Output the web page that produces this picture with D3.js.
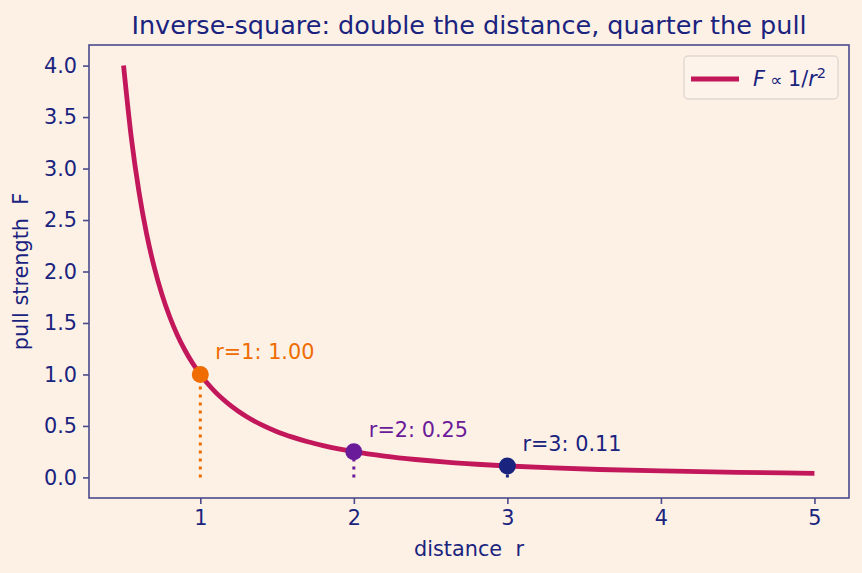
<!DOCTYPE html>
<html>
<head>
<meta charset="utf-8">
<script src="https://cdn.jsdelivr.net/npm/d3@7"></script>
<style>
  body { margin: 0; background: #fdf1e6; }
  svg text { font-family: "DejaVu Sans", sans-serif; white-space: pre; }
</style>
</head>
<body>
<div id="chart"></div>
<script>
// curve samples
var curveR = [0.5, 0.55, 0.6, 0.65, 0.7, 0.75, 0.8, 0.85, 0.9, 0.95, 1.0, 1.05, 1.1, 1.15, 1.2, 1.25, 1.3, 1.4, 1.5, 1.6, 1.7, 1.8, 1.9, 2.0, 2.2, 2.4, 2.6, 2.8, 3.0, 3.3, 3.6, 4.0, 4.5, 5.0];
var curveF = [4.000, 3.306, 2.778, 2.367, 2.041, 1.778, 1.563, 1.384, 1.235, 1.108, 1.000, 0.907, 0.826, 0.756, 0.694, 0.640, 0.592, 0.510, 0.444, 0.391, 0.346, 0.309, 0.277, 0.250, 0.207, 0.174, 0.148, 0.128, 0.111, 0.092, 0.077, 0.063, 0.049, 0.040];

// highlighted points
var markR = [1, 2, 3];
var markF = [1.00, 0.25, 0.11];
var markLabels = ["r=1: 1.00", "r=2: 0.25", "r=3: 0.11"];
var markColors = ["#ef6c00", "#6a1b9a", "#1a237e"];

var xTicks = [1, 2, 3, 4, 5];
var yTicks = [0, 0.5, 1.0, 1.5, 2.0, 2.5, 3.0, 3.5, 4.0];

var width = 862, height = 573;
var margin = {left: 89, right: 13, top: 45, bottom: 75};
var ink = "#1a237e", spine = "#4a4a8c";

var svg = d3.select("#chart").append("svg").attr("width", width).attr("height", height);
svg.append("rect").attr("width", width).attr("height", height).attr("fill", "#fdf1e6");

var x = d3.scaleLinear().domain([0.275, 5.225]).range([margin.left, width - margin.right]);
var y = d3.scaleLinear().domain([-0.2, 4.2]).range([height - margin.bottom, margin.top]);

// axes
var xAxis = svg.append("g").attr("transform", "translate(0," + (height - margin.bottom) + ")")
  .call(d3.axisBottom(x).tickValues(xTicks).tickFormat(d3.format("d")).tickSize(6).tickPadding(6));
var yAxis = svg.append("g").attr("transform", "translate(" + margin.left + ",0)")
  .call(d3.axisLeft(y).tickValues(yTicks).tickFormat(d3.format(".1f")).tickSize(6).tickPadding(6));
[xAxis, yAxis].forEach(function(g) {
  g.select(".domain").remove();
  g.selectAll("line").attr("stroke", spine).attr("stroke-width", 1.6);
  g.selectAll("text").attr("fill", ink).style("font-size", "20.8px").style("font-family", "DejaVu Sans");
});

// frame
svg.append("rect")
  .attr("x", margin.left).attr("y", margin.top)
  .attr("width", width - margin.left - margin.right)
  .attr("height", height - margin.top - margin.bottom)
  .attr("fill", "none").attr("stroke", spine).attr("stroke-width", 1.6);

// dotted drop lines
markR.forEach(function(r, i) {
  svg.append("line")
    .attr("x1", x(r)).attr("x2", x(r))
    .attr("y1", y(0)).attr("y2", y(markF[i]))
    .attr("stroke", markColors[i]).attr("stroke-width", 3)
    .attr("stroke-dasharray", "3,5");
});

// curve
var pts = curveR.map(function(r, i) { return [r, curveF[i]]; });
var line = d3.line().x(function(d) { return x(d[0]); }).y(function(d) { return y(d[1]); })
  .curve(d3.curveMonotoneX);
svg.append("path").datum(pts).attr("d", line)
  .attr("fill", "none").attr("stroke", "#c2185b").attr("stroke-width", 4.8);

// markers + labels
svg.selectAll("circle.mark").data(markR).enter().append("circle")
  .attr("class", "mark")
  .attr("cx", function(d) { return x(d); })
  .attr("cy", function(d, i) { return y(markF[i]); })
  .attr("r", 8.5)
  .attr("fill", function(d, i) { return markColors[i]; });

svg.selectAll("text.lab").data(markR).enter().append("text")
  .attr("class", "lab")
  .attr("x", function(d) { return x(d) + 15; })
  .attr("y", function(d, i) { return y(markF[i]) - 15; })
  .attr("fill", function(d, i) { return markColors[i]; })
  .style("font-size", "20.8px")
  .text(function(d, i) { return markLabels[i]; });

// title and axis labels
svg.append("text").attr("x", (margin.left + width - margin.right) / 2).attr("y", 34)
  .attr("text-anchor", "middle").attr("fill", ink).style("font-size", "25.5px")
  .text("Inverse-square: double the distance, quarter the pull");
svg.append("text").attr("x", (margin.left + width - margin.right) / 2).attr("y", 556)
  .attr("text-anchor", "middle").attr("fill", ink).style("font-size", "20.8px")
  .text("distance  r");
svg.append("text").attr("transform", "translate(28," + ((margin.top + height - margin.bottom) / 2) + ") rotate(-90)")
  .attr("text-anchor", "middle").attr("fill", ink).style("font-size", "20.8px")
  .text("pull strength  F");

// legend
var lg = svg.append("g").attr("transform", "translate(684,56)");
lg.append("rect").attr("width", 154).attr("height", 43).attr("rx", 4)
  .attr("fill", "#fdf3ea").attr("stroke", "#e0d8d0").attr("stroke-width", 1.4);
lg.append("line").attr("x1", 7).attr("x2", 55).attr("y1", 23).attr("y2", 23)
  .attr("stroke", "#c2185b").attr("stroke-width", 4.8);
var lt = lg.append("text").attr("x", 69).attr("y", 30).attr("fill", ink).style("font-size", "20.8px");
lt.append("tspan").style("font-style", "italic").text("F");
lt.append("tspan").style("font-size", "17px").text(" \u221D ");
lt.append("tspan").text("1/");
lt.append("tspan").style("font-style", "italic").text("r");
lt.append("tspan").attr("dy", -8).style("font-size", "14.5px").text("2");
</script>
</body>
</html>
